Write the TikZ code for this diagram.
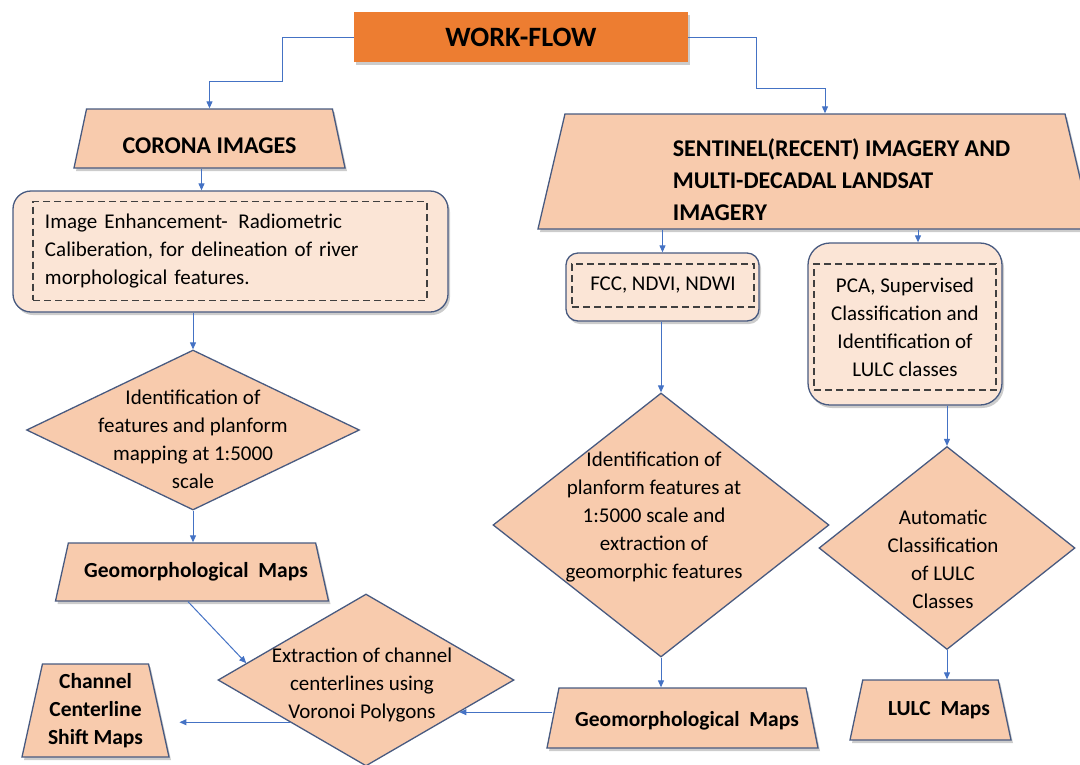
\documentclass[tikz,border=0pt]{standalone}
\usepackage{fontspec}
\setmainfont{Carlito}
\usetikzlibrary{shapes.geometric, shadows, arrows.meta}

\definecolor{peach}{HTML}{F8CBAD}
\definecolor{lightpeach}{HTML}{FBE5D6}
\definecolor{edgeblue}{HTML}{485A80}
\definecolor{linkblue}{HTML}{4472C4}
\definecolor{headorange}{HTML}{ED7D31}

\tikzset{
  shade/.style = {drop shadow = {opacity = 0.4, shadow xshift = 2pt, shadow yshift = -3pt}},
  headbox/.style = {fill = headorange, shade, font = \fontsize{28}{32}\selectfont\bfseries},
  trap/.style = {trapezium, trapezium stretches body, trapezium left angle = 78, trapezium right angle = 78,
    draw = edgeblue, line width = 1.3pt, fill = peach, inner sep = 0pt, text depth = 0pt, shade},
  rbox/.style = {draw = edgeblue, line width = 1.3pt, fill = lightpeach, rounded corners = 18pt, shade},
  inbox/.style = {draw = black!75, line width = 1.1pt, dash pattern = on 7pt off 4pt, inner sep = 12pt,
    font = \fontsize{21}{28}\selectfont},
  dia/.style = {diamond, draw = edgeblue, line width = 1.3pt, fill = peach, inner sep = 0pt},
  dtext/.style = {align = center, font = \fontsize{21}{28}\selectfont},
  htext/.style = {font = \fontsize{24}{32}\selectfont\bfseries},
  mtext/.style = {align = center, font = \fontsize{21.5}{28}\selectfont\bfseries},
  arr/.style = {draw = linkblue, line width = 1pt, -{Triangle[length = 7pt, width = 6pt]}}
}

\begin{document}
\begin{tikzpicture}[x = 1pt, y = -1pt]
\path[use as bounding box, clip] (0, 0) rectangle (1080, 764);

\node[headbox, minimum width = 334pt, minimum height = 50pt] at (521, 37) (wf) {WORK-FLOW};

% left branch
\node[trap, minimum width = 271pt, text height = 59pt,
  label = {[htext, yshift = -7pt]center:CORONA IMAGES}] at (209.5, 138.5) (cor) {};
\node[rbox, minimum width = 435pt, minimum height = 121pt] at (230.5, 251.5) (enh) {};
\node[inbox, minimum width = 394pt, minimum height = 98pt, text width = 370pt, align = left] at (230, 251) (enhin)
  {Image Enhancement- \,Radiometric\\Caliberation, for delineation of river\\morphological features.};
\node[dia, minimum width = 333pt, minimum height = 160pt,
  label = {[dtext, yshift = -9pt]center:Identification of\\features and planform\\mapping at 1:5000\\scale}]
  at (193, 430) (dia1) {};
\node[trap, trapezium left angle = 77.5, trapezium right angle = 77.5, minimum width = 273pt, text height = 58pt,
  label = {[mtext, xshift = 4pt]center:Geomorphological \ Maps}] at (192, 572) (geo1) {};
\node[dia, minimum width = 296pt, minimum height = 172pt,
  label = {[dtext, xshift = -4pt, yshift = -5pt]center:Extraction of channel\\centerlines using\\Voronoi Polygons}]
  at (366, 680) (ext) {};
\node[trap, trapezium left angle = 77.6, trapezium right angle = 77.6, minimum width = 147pt, text height = 93pt,
  label = {[mtext]center:Channel\\Centerline\\Shift Maps}] at (95.5, 710.5) (chan) {};

% right branch
\node[trap, trapezium left angle = 76.8, trapezium right angle = 76.8, minimum width = 554pt, text height = 115pt,
  label = {[htext, align = left, xshift = 26.5pt, yshift = -8.5pt]center:SENTINEL(RECENT) IMAGERY AND\\MULTI-DECADAL LANDSAT\\IMAGERY}]
  at (815, 171.5) (sen) {};
\node[rbox, rounded corners = 12pt, minimum width = 193pt, minimum height = 68pt] at (662.5, 287) (fcc) {};
\node[inbox, minimum width = 182pt, minimum height = 43pt] at (663, 285.5) (fccin) {FCC, NDVI, NDWI};
\node[rbox, rounded corners = 22pt, minimum width = 194pt, minimum height = 162pt] at (905, 324) (pca) {};
\node[inbox, minimum width = 182pt, minimum height = 126pt, align = center] at (905, 327) (pcain)
  {PCA, Supervised\\Classification and\\Identification of\\LULC classes};
\node[dia, minimum width = 336pt, minimum height = 264pt,
  label = {[dtext, xshift = -7pt, yshift = 8pt]center:Identification of\\planform features at\\1:5000 scale and\\extraction of\\geomorphic features}]
  at (661, 525) (dia2) {};
\node[dia, minimum width = 256pt, minimum height = 203pt,
  label = {[dtext, xshift = -4pt, yshift = -11pt]center:Automatic\\Classification\\of LULC\\Classes}]
  at (947, 548) (dia3) {};
\node[trap, trapezium left angle = 78.7, trapezium right angle = 78.7, minimum width = 271pt, text height = 60pt,
  label = {[mtext, xshift = 4.5pt, yshift = -3pt]center:Geomorphological \ Maps}] at (682.5, 718) (geo2) {};
\node[trap, minimum width = 161pt, text height = 60pt,
  label = {[mtext, xshift = 8.5pt]center:LULC \ Maps}] at (930.5, 710) (lulc) {};

% connectors
\draw[arr] (wf.west) -- ++(-71, 0) -- ++(0, 44) -| (cor.north);
\draw[arr] (wf.east) -- ++(68, 0) -- ++(0, 51) -| ([xshift = 10pt]sen.north);
\draw[arr] ([xshift = -8pt]cor.south) -- ([xshift = -8pt]cor.south |- enh.north);
\draw[arr] (enh.south -| dia1.north) -- (dia1.north);
\draw[arr] (dia1.south) -- (dia1.south |- geo1.north);
\draw[arr] ([xshift = -4pt]geo1.south) -- (ext.172);
\draw[arr] (sen.south -| fcc.north) -- (fcc.north);
\draw[arr] ([xshift = 13pt]pca.north |- sen.south) -- ([xshift = 13pt]pca.north);
\draw[arr] (fcc.south -| dia2.north) -- (dia2.north);
\draw[arr] (pca.south -| dia3.north) -- (dia3.north);
\draw[arr] (dia2.south) -- (dia2.south |- geo2.north);
\draw[arr] (dia3.south) -- (dia3.south |- lulc.north);
\draw[arr] (geo2.west |- ext.-19) -- (ext.-19);
\draw[arr, shorten > = 20pt] (ext.209) -- (ext.209 -| chan.east);

\end{tikzpicture}
\end{document}
